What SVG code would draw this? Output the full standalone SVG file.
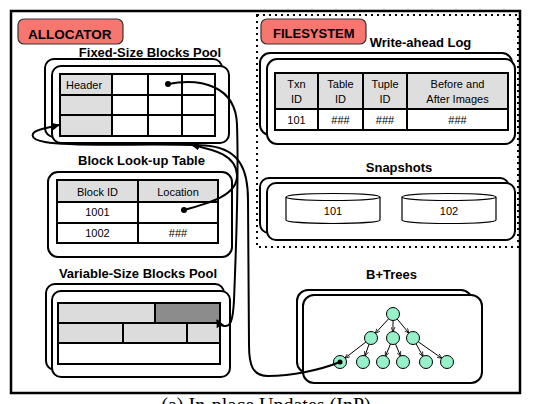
<svg xmlns="http://www.w3.org/2000/svg" width="534" height="404" viewBox="0 0 534 404">
<defs>
<style>
.box{fill:#fff;stroke:#000;stroke-width:2}
.ln{fill:none;stroke:#000;stroke-width:2}
.hdr{fill:#dedede}
.t{font-family:"Liberation Sans",Arial,sans-serif;font-weight:bold;font-size:13px;fill:#000;text-anchor:middle}
.c{font-family:"Liberation Sans",Arial,sans-serif;font-size:11px;fill:#000;text-anchor:middle}
.lab{fill:#F87670;stroke:#333;stroke-width:1.2}
.labt{font-family:"Liberation Sans",Arial,sans-serif;font-weight:bold;fill:#000}
.conn{fill:none;stroke:#000;stroke-width:2}
.tree{fill:none;stroke:#000;stroke-width:1}
.nd{fill:#96F0C8;stroke:#000;stroke-width:1}
.cyl{fill:#fff;stroke:#000;stroke-width:1.2}
</style>
<marker id="ah" viewBox="0 0 10 10" refX="9" refY="5" markerWidth="4" markerHeight="4" orient="auto" markerUnits="strokeWidth">
<path d="M0,0 L10,5 L0,10 z" fill="#000"/>
</marker>
<marker id="ahs" viewBox="0 0 10 10" refX="9" refY="5" markerWidth="5" markerHeight="5" orient="auto" markerUnits="strokeWidth">
<path d="M0,1 L10,5 L0,9" fill="none" stroke="#000" stroke-width="1.5"/>
</marker>
</defs>
<rect width="534" height="404" fill="#fff"/>
<rect x="11" y="11" width="509" height="382" fill="none" stroke="#000" stroke-width="2.5"/>
<rect id="filesystem-area" x="257" y="15" width="261" height="232" fill="none" stroke="#000" stroke-width="2" stroke-dasharray="2 4"/>

<g id="allocator-label">
<rect class="lab" x="18" y="19" width="105" height="25" rx="6"/>
<text class="labt" x="28" y="39" font-size="13.5">ALLOCATOR</text>
</g>
<g id="filesystem-label">
<rect class="lab" x="261" y="19" width="105" height="25" rx="6"/>
<text class="labt" x="273" y="38" font-size="13">FILESYSTEM</text>
</g>

<g id="fixed-pool">
<text class="t" x="150" y="57">Fixed-Size Blocks Pool</text>
<rect class="box" x="45" y="59" width="177" height="78" rx="9"/>
<rect class="box" x="52" y="66" width="177" height="77" rx="9"/>
<rect class="hdr" x="60" y="74" width="52" height="62"/>
<rect class="ln" x="60" y="74" width="155" height="62"/>
<path class="ln" d="M60,95H215M60,115H215M112,74V136M148,74V136M182,74V136"/>
<text class="c" x="66" y="89" text-anchor="start" style="text-anchor:start">Header</text>
<circle cx="168" cy="84" r="3" fill="#000"/>
</g>

<g id="lookup-table">
<text class="t" x="141.5" y="165">Block Look-up Table</text>
<rect class="box" x="48" y="172" width="184" height="85" rx="10"/>
<rect class="hdr" x="57" y="180" width="161" height="22"/>
<rect class="ln" x="57" y="180" width="161" height="63"/>
<path class="ln" d="M57,202H218M57,223H218M138,180V243"/>
<text class="c" x="97.5" y="196">Block ID</text>
<text class="c" x="178" y="196">Location</text>
<text class="c" x="97.5" y="216">1001</text>
<text class="c" x="97.5" y="237">1002</text>
<text class="c" x="178" y="237">###</text>
<circle cx="184" cy="210" r="3" fill="#000"/>
</g>

<g id="variable-pool">
<text class="t" x="138" y="278">Variable-Size Blocks Pool</text>
<rect class="box" x="46" y="284" width="178" height="86" rx="9"/>
<rect class="box" x="52" y="291" width="178" height="86" rx="9"/>
<rect x="58" y="303" width="97" height="20" fill="#dcdcdc"/>
<rect x="155" y="303" width="65" height="20" fill="#8c8c8c"/>
<rect x="58" y="323" width="162" height="20" fill="#dcdcdc"/>
<rect class="ln" x="58" y="303" width="162" height="61"/>
<path class="ln" d="M58,323H220M58,343H220M155,303V323M123,323V343M187,323V343"/>
</g>

<g id="write-ahead-log">
<text class="t" x="420.5" y="47" font-size="13.5">Write-ahead Log</text>
<rect class="box" x="260" y="53" width="252" height="82" rx="10"/>
<rect class="box" x="267" y="59" width="248" height="85" rx="10"/>
<rect class="hdr" x="275" y="73" width="233" height="36"/>
<rect class="ln" x="275" y="73" width="233" height="57"/>
<path class="ln" d="M275,109H508M318,73V130M363,73V130M407,73V130"/>
<text class="c" x="296.5" y="88">Txn</text>
<text class="c" x="296.5" y="103">ID</text>
<text class="c" x="340.5" y="88">Table</text>
<text class="c" x="340.5" y="103">ID</text>
<text class="c" x="385" y="88">Tuple</text>
<text class="c" x="385" y="103">ID</text>
<text class="c" x="457.5" y="88" font-size="11.5">Before and</text>
<text class="c" x="457.5" y="103" font-size="11.5">After Images</text>
<text class="c" x="296.5" y="124">101</text>
<text class="c" x="340.5" y="124">###</text>
<text class="c" x="385" y="124">###</text>
<text class="c" x="457.5" y="124">###</text>
</g>

<g id="snapshots">
<text class="t" x="399" y="172">Snapshots</text>
<rect class="box" x="260" y="178" width="249" height="55" rx="9"/>
<rect class="box" x="267" y="183" width="248" height="57" rx="9"/>
<path class="cyl" d="M286,197V220A47,3.5 0 0 0 380,220V197"/>
<ellipse class="cyl" cx="333" cy="197" rx="47" ry="3.5"/>
<text class="c" x="333" y="215">101</text>
<path class="cyl" d="M402,197V220A47,3.5 0 0 0 496,220V197"/>
<ellipse class="cyl" cx="449" cy="197" rx="47" ry="3.5"/>
<text class="c" x="449" y="215">102</text>
</g>

<g id="bplus-trees">
<text class="t" x="391.5" y="279">B+Trees</text>
<rect class="box" x="297" y="290" width="175" height="83" rx="11"/>
<rect class="box" x="303" y="295" width="179" height="88" rx="11"/>
<g class="tree" marker-end="url(#ahs)">
<line x1="388.6" y1="318.8" x2="375.4" y2="333.2" marker-end="url(#ahs)"/>
<line x1="393" y1="320.5" x2="393" y2="331.5" marker-end="url(#ahs)"/>
<line x1="397.2" y1="319" x2="408.8" y2="333" marker-end="url(#ahs)"/>
<line x1="365.9" y1="342" x2="345.1" y2="358" marker-end="url(#ahs)"/>
<line x1="369" y1="344.2" x2="365" y2="355.8" marker-end="url(#ahs)"/>
<line x1="390.5" y1="344" x2="385.5" y2="356" marker-end="url(#ahs)"/>
<line x1="395.5" y1="344" x2="400.5" y2="356" marker-end="url(#ahs)"/>
<line x1="416.1" y1="343.7" x2="422.9" y2="356.3" marker-end="url(#ahs)"/>
<line x1="418.3" y1="341.8" x2="441.7" y2="358.2" marker-end="url(#ahs)"/>
</g>
<circle class="nd" cx="393" cy="314" r="6.5"/>
<circle class="nd" cx="371" cy="338" r="6.5"/>
<circle class="nd" cx="393" cy="338" r="6.5"/>
<circle class="nd" cx="413" cy="338" r="6.5"/>
<circle class="nd" cx="340" cy="362" r="6.5"/>
<circle class="nd" cx="363" cy="362" r="6.5"/>
<circle class="nd" cx="383" cy="362" r="6.5"/>
<circle class="nd" cx="403" cy="362" r="6.5"/>
<circle class="nd" cx="426" cy="362" r="6.5"/>
<circle class="nd" cx="447" cy="362" r="6.5"/>
<circle cx="340" cy="362" r="2.5" fill="#000"/>
</g>

<g id="connectors">
<path class="conn" marker-end="url(#ah)" d="M184,210 C210,203 238,195 237,175 C236,155 215,150 192,145"/>
<path class="conn" marker-end="url(#ah)" d="M168,84 C200,78 236,85 237,125 C239,180 236,250 234,300 C233,322 230,327 224,326 C220,325 218,322 217,320"/>
<path class="conn" marker-end="url(#ah)" d="M340,362 C320,370 292,376 268,376 C253,376 249,366 249,345 L248,200 C248,170 240,150 210,146 C160,142 80,148 45,142 C28,139 30,132 42,129 L59,125"/>
</g>

<text x="266" y="412" font-family="Liberation Serif,Times New Roman,serif" font-size="20" text-anchor="middle" fill="#000">(a) In-place Updates (InP)</text>
</svg>
